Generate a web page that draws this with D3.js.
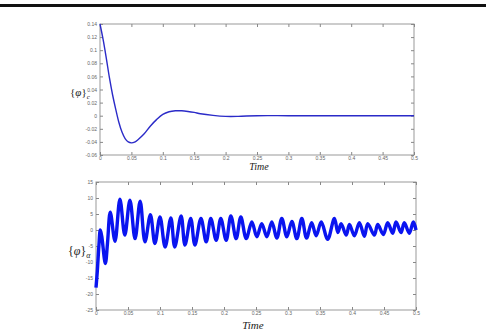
<!DOCTYPE html>
<html>
<head>
<meta charset="utf-8">
<script src="https://cdn.jsdelivr.net/npm/d3@7"></script>
<style>
  body { margin: 0; background: #fff; }
  svg { display: block; }
  .tick text { font-family: "Liberation Sans", Arial, sans-serif; font-size: 5px; fill: #666; }
  .domain { display: none; }
  .tick line { stroke: #888; }
</style>
</head>
<body>
<svg id="chart" width="486" height="335"></svg>
<script>
// x ticks shared by both panels
const timeTicks = [0, 0.05, 0.1, 0.15, 0.2, 0.25, 0.3, 0.35, 0.4, 0.45, 0.5];
const timeTickLabels = ['0', '0.05', '0.1', '0.15', '0.2', '0.25', '0.3', '0.35', '0.4', '0.45', '0.5'];

// top panel: {phi}_c
const topTicks = [0.14, 0.12, 0.1, 0.08, 0.06, 0.04, 0.02, 0, -0.02, -0.04, -0.06];
const topTime = [0, 0.005, 0.01, 0.015, 0.02, 0.025, 0.03, 0.035, 0.04, 0.045, 0.05, 0.055, 0.06,
  0.07, 0.08, 0.09, 0.1, 0.11, 0.12, 0.13, 0.14, 0.15, 0.16, 0.18, 0.2, 0.22, 0.25, 0.3, 0.35, 0.4, 0.45, 0.5];
const topValue = [0.14, 0.116, 0.088, 0.058, 0.032, 0.01, -0.01, -0.025, -0.035, -0.04, -0.0415, -0.0405, -0.037,
  -0.028, -0.016, -0.006, 0.002, 0.006, 0.0075, 0.0075, 0.0065, 0.005, 0.003, 0.0005, -0.001, -0.001, 0, 0, 0, 0, 0, 0];

// bottom panel: {phi}_alpha (peaks and dips)
const botTicks = [15, 10, 5, 0, -5, -10, -15, -20, -25];
const botTime = [0, 0.002, 0.0045, 0.0067, 0.009, 0.0146, 0.018, 0.0223, 0.0297, 0.0374, 0.045, 0.053, 0.061,
  0.069, 0.0765, 0.085, 0.092, 0.1, 0.108, 0.117, 0.123, 0.133, 0.139, 0.148, 0.1545, 0.164, 0.1722, 0.1794,
  0.1878, 0.195, 0.2034, 0.2107, 0.219, 0.2263, 0.2347, 0.2435, 0.2513, 0.259, 0.267, 0.2747, 0.2826, 0.2903,
  0.2982, 0.306, 0.3138, 0.3216, 0.329, 0.337, 0.344, 0.352, 0.362, 0.3725, 0.378, 0.383, 0.391, 0.396,
  0.4037, 0.4115, 0.4193, 0.4246, 0.4349, 0.4402, 0.449, 0.4558, 0.4636, 0.4688, 0.4766, 0.4817, 0.4895, 0.4958, 0.5];
const botValue = [-18, -13, -5, 0, -2, -10.5, -4, 5.6, -3.5, 9.6, -1.6, 9.3, -2.7,
  9, -3.7, 4.8, -4.2, 4.1, -5.3, 3.8, -5.3, 4.4, -4.7, 3.6, -4.7, 3.6, -3.7, 3.6,
  -3.2, 3.6, -3.2, 4.4, -2.7, 4.1, -2.7, 2.5, -2.1, 2.0, -2.1, 2.5, -2.5, 3.6,
  -2.1, 2.7, -2.7, 3.6, -2.5, 2.3, -1.8, 2.5, -2.9, 3.6, -0.8, 2.0, -1.6, 1.7,
  -1.8, 2.3, -2.0, 2.0, -1.6, 1.7, -1.4, 2.3, -1.0, 2.5, -0.8, 2.3, -1.0, 2.5, 0];

const svg = d3.select('#chart');

// black rule across the top of the page
svg.append('rect').attr('x', 0).attr('y', 4).attr('width', 486).attr('height', 3).attr('fill', '#111');

function panel(box, yDomain, yTicks, yFmt, times, values, color, width) {
  const x = d3.scaleLinear().domain([0, 0.5]).range([box.left, box.right]);
  const y = d3.scaleLinear().domain(yDomain).range([box.bottom, box.top]);
  const g = svg.append('g');

  g.append('rect')
    .attr('x', box.left).attr('y', box.top)
    .attr('width', box.right - box.left).attr('height', box.bottom - box.top)
    .attr('fill', '#fff').attr('stroke', '#999').attr('stroke-width', 1);

  // inward ticks on all four sides, labels only bottom and left
  g.append('g').attr('transform', `translate(0,${box.bottom})`)
    .call(d3.axisBottom(x).tickValues(timeTicks).tickSize(-3).tickPadding(1.5)
      .tickFormat((d, i) => timeTickLabels[i]));
  g.append('g').attr('transform', `translate(0,${box.top})`)
    .call(d3.axisTop(x).tickValues(timeTicks).tickSize(-3).tickFormat(''));
  g.append('g').attr('transform', `translate(${box.left},0)`)
    .call(d3.axisLeft(y).tickValues(yTicks).tickSize(-3).tickPadding(3).tickFormat(yFmt));
  g.append('g').attr('transform', `translate(${box.right},0)`)
    .call(d3.axisRight(y).tickValues(yTicks).tickSize(-3).tickFormat(''));

  const line = d3.line()
    .x((d, i) => x(times[i]))
    .y(d => y(d))
    .curve(d3.curveCatmullRom);

  g.append('path')
    .datum(values)
    .attr('d', line)
    .attr('fill', 'none')
    .attr('stroke', color)
    .attr('stroke-width', width)
    .attr('stroke-linejoin', 'round');
}

const topBox = { left: 100, right: 414, top: 24, bottom: 155 };
const botBox = { left: 96, right: 416, top: 182, bottom: 310 };

panel(topBox, [-0.06, 0.14], topTicks, d => d === 0 ? '0' : String(d), topTime, topValue, '#2b2bc8', 1.4);
panel(botBox, [-25, 15], botTicks, d => String(d), botTime, botValue, '#0a14f0', 3.4);

// axis titles
const serif = '"Liberation Serif", "Times New Roman", serif';

const t1 = svg.append('text').attr('x', 70).attr('y', 96)
  .attr('font-family', serif).attr('font-size', 11).attr('fill', '#222');
t1.append('tspan').text('{');
t1.append('tspan').attr('font-style', 'italic').text('φ');
t1.append('tspan').text('}');
t1.append('tspan').attr('font-size', 7).attr('font-style', 'italic').attr('dy', 3).text('c');

const t2 = svg.append('text').attr('x', 68).attr('y', 255)
  .attr('font-family', serif).attr('font-size', 12).attr('fill', '#222');
t2.append('tspan').text('{');
t2.append('tspan').attr('font-style', 'italic').text('φ');
t2.append('tspan').text('}');
t2.append('tspan').attr('font-size', 8).attr('font-style', 'italic').attr('dy', 3).text('α');

svg.append('text').attr('x', 259).attr('y', 170).attr('text-anchor', 'middle')
  .attr('font-family', serif).attr('font-style', 'italic').attr('font-size', 10).attr('fill', '#222')
  .text('Time');
svg.append('text').attr('x', 253).attr('y', 329).attr('text-anchor', 'middle')
  .attr('font-family', serif).attr('font-style', 'italic').attr('font-size', 11).attr('fill', '#222')
  .text('Time');
</script>
</body>
</html>
